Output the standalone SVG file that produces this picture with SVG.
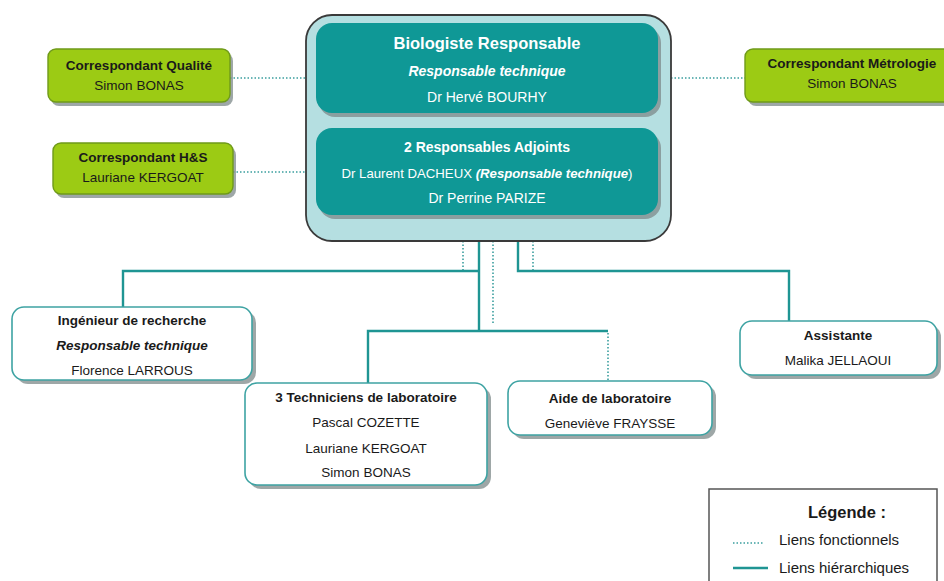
<svg xmlns="http://www.w3.org/2000/svg" width="944" height="581" viewBox="0 0 944 581">
<defs>
<style>
text{font-family:"Liberation Sans",Arial,sans-serif;text-anchor:middle}
.b{font-weight:bold}
.bi{font-weight:bold;font-style:italic}
.w{fill:#ffffff}
.k{fill:#1a1a1a}
.sh{fill:#7d8a8a;opacity:0.75}
.teal{fill:#0f9896}
.wb{fill:#ffffff;stroke:#3ea3a3;stroke-width:1.6}
.gb{fill:#9ccb14;stroke:#6f9a1a;stroke-width:1.4}
.sol{stroke:#1f9593;stroke-width:2.4;fill:none}
.dot{stroke:#3a9e9e;stroke-width:1.6;stroke-dasharray:1.5 2;fill:none}
.s{font-size:13.5px}
.t{font-size:14px}
</style>
</defs>
<rect width="944" height="581" fill="#ffffff"/>

<g id="connectors">
<line class="dot" x1="230" y1="78" x2="306" y2="78"/>
<line class="dot" x1="233" y1="172" x2="306" y2="172"/>
<line class="dot" x1="671" y1="78" x2="745" y2="78"/>
<line class="sol" x1="473" y1="113" x2="473" y2="128"/>
<line class="dot" x1="488" y1="116" x2="488" y2="126"/>
<line class="dot" x1="463" y1="241" x2="463" y2="270"/>
<polyline class="sol" points="479,241 479,331"/>
<polyline class="sol" points="479,271 123,271 123,307"/>
<polyline class="sol" points="479,331 368,331 368,383"/>
<polyline class="sol" points="479,331 608,331"/>
<line class="dot" x1="608" y1="333" x2="608" y2="381"/>
<line class="dot" x1="493" y1="241" x2="493" y2="323"/>
<polyline class="sol" points="518,241 518,271 789,271 789,321"/>
<line class="dot" x1="533" y1="241" x2="533" y2="270"/>
</g>

<g id="direction">
<rect x="306" y="15" width="365" height="226" rx="26" fill="#b5dfe1" stroke="#3a3a3a" stroke-width="1.8"/>
</g>

<g id="biologiste">
<rect class="sh" x="319" y="27" width="342" height="90" rx="16"/>
<rect class="teal" x="316" y="23" width="342" height="90" rx="16"/>
<text class="b w" x="487" y="49" font-size="16.5">Biologiste Responsable</text>
<text class="bi w t" x="487" y="76">Responsable technique</text>
<text class="w t" x="487" y="102">Dr Hervé BOURHY</text>
</g>

<g id="adjoints">
<rect class="sh" x="319" y="132" width="342" height="87" rx="16"/>
<rect class="teal" x="316" y="128" width="342" height="87" rx="16"/>
<text class="b w t" x="487" y="152">2 Responsables Adjoints</text>
<text class="w" x="487" y="178" font-size="13.2">Dr Laurent DACHEUX <tspan class="bi">(Responsable technique</tspan>)</text>
<text class="w t" x="487" y="203">Dr Perrine PARIZE</text>
</g>

<g id="qualite">
<rect class="sh" x="51" y="53" width="182" height="53" rx="8"/>
<rect class="gb" x="48" y="49" width="182" height="53" rx="8"/>
<text class="b k s" x="139" y="70">Correspondant Qualité</text>
<text class="k s" x="139" y="90">Simon BONAS</text>
</g>

<g id="hs">
<rect class="sh" x="56" y="147" width="180" height="51" rx="8"/>
<rect class="gb" x="53" y="143" width="180" height="51" rx="8"/>
<text class="b k s" x="143" y="162">Correspondant H&amp;S</text>
<text class="k s" x="143" y="182">Lauriane KERGOAT</text>
</g>

<g id="metrologie">
<rect class="sh" x="748" y="53" width="210" height="53" rx="8"/>
<rect class="gb" x="745" y="49" width="210" height="53" rx="8"/>
<text class="b k s" x="852" y="68">Correspondant Métrologie</text>
<text class="k s" x="852" y="88">Simon BONAS</text>
</g>

<g id="ingenieur">
<rect class="sh" x="16" y="311" width="240" height="73" rx="12"/>
<rect class="wb" x="12" y="307" width="240" height="73" rx="12"/>
<text class="b k s" x="132" y="325">Ingénieur de recherche</text>
<text class="bi k s" x="132" y="350">Responsable technique</text>
<text class="k s" x="132" y="375">Florence LARROUS</text>
</g>

<g id="techniciens">
<rect class="sh" x="249" y="387" width="242" height="102" rx="12"/>
<rect class="wb" x="245" y="383" width="242" height="102" rx="12"/>
<text class="b k s" x="366" y="402">3 Techniciens de laboratoire</text>
<text class="k s" x="366" y="427">Pascal COZETTE</text>
<text class="k s" x="366" y="453">Lauriane KERGOAT</text>
<text class="k s" x="366" y="477">Simon BONAS</text>
</g>

<g id="aide">
<rect class="sh" x="512" y="385" width="204" height="54" rx="12"/>
<rect class="wb" x="508" y="381" width="204" height="54" rx="12"/>
<text class="b k s" x="610" y="403">Aide de laboratoire</text>
<text class="k s" x="610" y="428">Geneviève FRAYSSE</text>
</g>

<g id="assistante">
<rect class="sh" x="744" y="325" width="197" height="54" rx="12"/>
<rect class="wb" x="740" y="321" width="197" height="54" rx="12"/>
<text class="b k s" x="838" y="340">Assistante</text>
<text class="k s" x="838" y="365">Malika JELLAOUI</text>
</g>

<g id="legende">
<rect x="709" y="489" width="228" height="100" fill="#ffffff" stroke="#555" stroke-width="1.5"/>
<text class="b k" x="847" y="518" font-size="16.5">Légende :</text>
<line class="dot" x1="733" y1="543" x2="763" y2="543"/>
<text class="k" x="779" y="545" font-size="15" style="text-anchor:start">Liens fonctionnels</text>
<line class="sol" x1="733" y1="568" x2="768" y2="568"/>
<text class="k" x="779" y="573" font-size="15" style="text-anchor:start">Liens hiérarchiques</text>
</g>
</svg>
